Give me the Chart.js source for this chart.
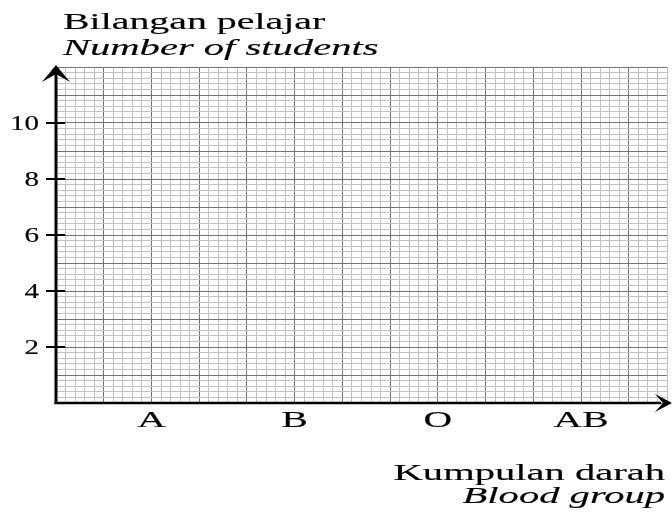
<!DOCTYPE html>
<html>
<head>
<meta charset="utf-8">
<script src="https://cdn.jsdelivr.net/npm/chart.js@4"></script>
<style>
  html, body { margin: 0; padding: 0; background: #fff; }
  #wrap { width: 672px; height: 515px; position: relative; }
</style>
</head>
<body>
<div id="wrap"><canvas id="graph"></canvas></div>
<script>
// blank graph paper: no counts plotted yet
const bloodGroups = ["A", "B", "O", "AB"];
const studentCounts = [null, null, null, null];
const yTickLabels = [2, 4, 6, 8, 10];
const yTitle = ["Bilangan pelajar", "Number of students"];
const xTitle = ["Kumpulan darah", "Blood group"];

const X_MAX = 12.8;   // big squares across
const Y_MAX = 12;     // big squares up
const MINOR = "#c2c2c2";
const MAJOR = "#747474";
const SERIF = '"Liberation Serif", "Times New Roman", serif';

// category i sits on big square line 2 + 3*i
const groupPos = (i) => 2 + 3 * i;

function minorTicks(max) {
  const t = [];
  for (let i = 0; i <= Math.round(max * 5); i++) t.push({ value: i / 5 });
  return t;
}

// the original print is stretched sideways, so text is drawn wide
function stretchText(ctx, text, x, y, font, sx, align) {
  ctx.save();
  ctx.font = font;
  ctx.textAlign = "left";
  ctx.textBaseline = "alphabetic";
  ctx.fillStyle = "#000";
  ctx.strokeStyle = "#000";
  ctx.lineWidth = 0.15;
  const w = ctx.measureText(text).width * sx;
  let x0 = x;
  if (align === "right") x0 = x - w;
  if (align === "center") x0 = x - w / 2;
  ctx.translate(x0, y);
  ctx.scale(sx, 1);
  ctx.fillText(text, 0, 0);
  ctx.strokeText(text, 0, 0);
  ctx.restore();
}

const paperAxes = {
  id: "paperAxes",
  afterDraw(chart) {
    const { ctx, chartArea: a } = chart;
    const xs = chart.scales.x, ys = chart.scales.y;
    ctx.save();
    ctx.strokeStyle = "#000";
    ctx.fillStyle = "#000";

    // axes
    ctx.lineWidth = 3;
    ctx.beginPath();
    ctx.moveTo(a.left, a.bottom + 1);
    ctx.lineTo(a.left, a.top + 4);
    ctx.stroke();
    ctx.lineWidth = 2.5;
    ctx.beginPath();
    ctx.moveTo(a.left - 1.5, a.bottom);
    ctx.lineTo(a.right - 6, a.bottom);
    ctx.stroke();

    // arrow heads
    const T = a.top;
    ctx.beginPath();
    ctx.moveTo(a.left, T - 2);
    ctx.lineTo(a.left + 14, T + 15);
    ctx.lineTo(a.left, T + 7);
    ctx.lineTo(a.left - 14, T + 15);
    ctx.closePath();
    ctx.fill();
    const R = 672, B = a.bottom;
    ctx.beginPath();
    ctx.moveTo(R, B);
    ctx.lineTo(R - 17, B - 9);
    ctx.lineTo(R - 9, B);
    ctx.lineTo(R - 17, B + 9);
    ctx.closePath();
    ctx.fill();

    // y ticks crossing the axis + labels
    ctx.lineWidth = 2;
    yTickLabels.forEach((v) => {
      const py = ys.getPixelForValue(v);
      ctx.beginPath();
      ctx.moveTo(a.left - 10, py);
      ctx.lineTo(a.left + 9, py);
      ctx.stroke();
      stretchText(ctx, String(v), 39, py + 6.5, "20px " + SERIF, 1.45, "right");
    });

    // category labels
    bloodGroups.forEach((g, i) => {
      const px = xs.getPixelForValue(groupPos(i));
      stretchText(ctx, g, px, 427, "24px " + SERIF, 1.65, "center");
    });

    // axis titles
    stretchText(ctx, yTitle[0], 63, 29, "24px " + SERIF, 1.66, "left");
    stretchText(ctx, yTitle[1], 63, 55, "italic 24px " + SERIF, 1.69, "left");
    stretchText(ctx, xTitle[0], 665, 480, "24px " + SERIF, 1.69, "right");
    stretchText(ctx, xTitle[1], 665, 503, "italic 24px " + SERIF, 1.69, "right");
    ctx.restore();
  }
};

const gridColor = (c) => (c.index % 5 === 0 ? MAJOR : MINOR);

new Chart(document.getElementById("graph"), {
  type: "scatter",
  data: {
    datasets: [{
      label: "Number of students",
      data: bloodGroups.map((g, i) => ({ x: groupPos(i), y: studentCounts[i] })),
      pointRadius: 4,
      backgroundColor: "#000"
    }]
  },
  options: {
    responsive: true,
    maintainAspectRatio: false,
    animation: false,
    layout: { padding: { left: 56, right: 1, top: 67, bottom: 112 } },
    plugins: { legend: { display: false }, tooltip: { enabled: false } },
    scales: {
      x: {
        type: "linear",
        min: 0,
        max: X_MAX,
        afterBuildTicks: (s) => { s.ticks = minorTicks(X_MAX); },
        ticks: { display: false },
        border: { display: false },
        grid: { color: gridColor, lineWidth: 1, drawTicks: false }
      },
      y: {
        type: "linear",
        min: 0,
        max: Y_MAX,
        afterBuildTicks: (s) => { s.ticks = minorTicks(Y_MAX); },
        ticks: { display: false },
        border: { display: false },
        grid: { color: gridColor, lineWidth: 1, drawTicks: false }
      }
    }
  },
  plugins: [paperAxes]
});
</script>
</body>
</html>
